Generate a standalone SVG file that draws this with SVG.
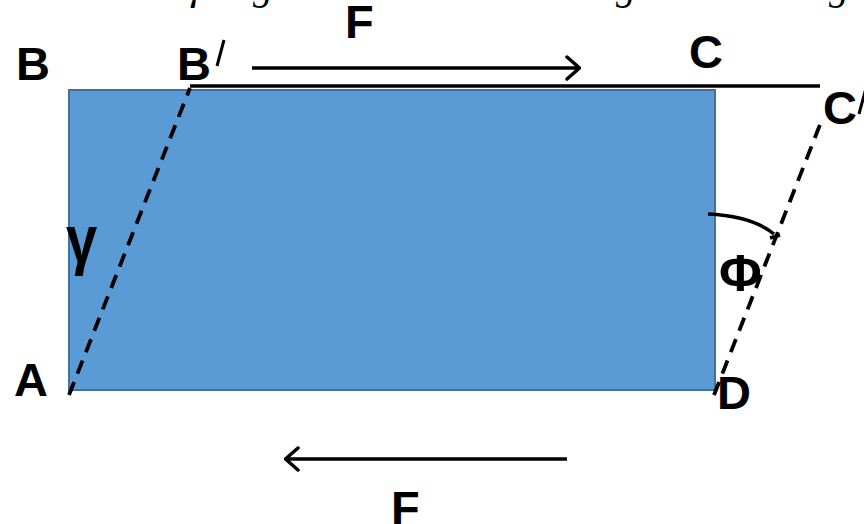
<svg xmlns="http://www.w3.org/2000/svg" width="864" height="524" viewBox="0 0 864 524">
<defs>
<style>
.lbl{font-family:"Liberation Sans",Arial,sans-serif;font-weight:bold;font-size:47px;fill:#000}
.cut{font-family:"Liberation Serif","Times New Roman",serif;font-style:italic;font-size:40px;fill:#000}
.dash{stroke:#000;stroke-width:3.8;stroke-dasharray:14 9;fill:none}
.ln{stroke:#000;stroke-width:3.5;fill:none}
.sl{stroke:#000;stroke-width:3;fill:none}
</style>
<marker id="open" viewBox="0 0 16 26" refX="15" refY="13" markerWidth="16" markerHeight="26" markerUnits="userSpaceOnUse" orient="auto">
<path d="M2,2 L14.5,13 L2,24" fill="none" stroke="#000" stroke-width="3.5" stroke-linecap="round" stroke-linejoin="round"/>
</marker>
</defs>
<rect width="864" height="524" fill="#fff"/>
<g id="top-cut-text">
<text class="cut" x="188" y="-1">γ</text>
<text class="cut" x="253" y="-1">g</text>
<text class="cut" x="616" y="-1">g</text>
<text class="cut" x="829" y="-1">g</text>
</g>
<g id="block">
<rect x="69" y="90" width="646" height="300" fill="#5b9bd5" stroke="#41719c" stroke-width="2"/>
</g>
<g id="connectors">
<line class="ln" x1="190" y1="86" x2="820" y2="86"/>
<line class="dash" x1="69" y1="395" x2="190" y2="88"/>
<line class="dash" x1="714" y1="395" x2="823" y2="117"/>
<path class="ln" stroke-width="3" d="M708,214 Q752,216 774,234"/>
<path class="ln" stroke-width="3" d="M770,238 L780,235"/>
<line class="ln" x1="252" y1="68" x2="580" y2="68" marker-end="url(#open)"/>
<line class="ln" x1="567" y1="459" x2="285" y2="459" marker-end="url(#open)"/>
</g>
<g id="labels">
<text class="lbl" x="16" y="80">B</text>
<text class="lbl" x="177" y="80">B</text>
<line class="sl" x1="224" y1="40" x2="217" y2="66"/>
<text class="lbl" x="689" y="68">C</text>
<text class="lbl" x="823" y="124">C</text>
<line class="sl" x1="866" y1="88" x2="859" y2="114"/>
<text class="lbl" x="345" y="38">F</text>
<text class="lbl" x="391" y="524">F</text>
<text class="lbl" x="14" y="396">A</text>
<text class="lbl" x="717" y="409">D</text>
<text class="lbl" style="font-size:66px" transform="translate(66,262) scale(0.85,1)">γ</text>
<text class="lbl" x="719" y="291" style="font-size:52px">Φ</text>
</g>
</svg>
